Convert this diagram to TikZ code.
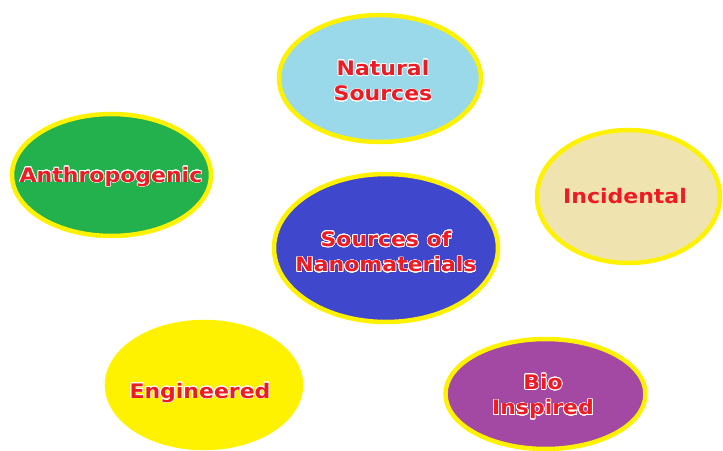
\documentclass[tikz,border=0pt]{standalone}
\usepackage{fontspec}
\usepackage{contour}
\usetikzlibrary{shapes.geometric}
\newfontfamily\labelfont[FakeStretch=1.1]{DejaVu Sans Bold}
\contourlength{0.7pt}
\contournumber{24}
\definecolor{rimyellow}{RGB}{255,242,0}
\definecolor{txtred}{RGB}{237,28,36}
\definecolor{skyfill}{RGB}{153,217,234}
\definecolor{greenfill}{RGB}{34,177,76}
\definecolor{wheatfill}{RGB}{239,228,176}
\definecolor{indigofill}{RGB}{63,72,204}
\definecolor{yellowfill}{RGB}{255,242,0}
\definecolor{purplefill}{RGB}{163,73,164}
\newcommand{\wl}[1]{\contour{white}{#1}}
\begin{document}
\begin{tikzpicture}[x=1pt,y=-1pt,
  blob/.style={ellipse, draw=rimyellow, line width=4.5pt, inner sep=0pt},
  caption/.style={text=txtred, font=\labelfont\fontsize{20}{25.5}\selectfont, align=center, inner sep=0pt}]
  \useasboundingbox (0,0) rectangle (723,450);
  \fill[white] (0,0) rectangle (723,450);

  % circles
  \node[blob, fill=skyfill,    minimum width=202pt, minimum height=127pt] (nat) at (380,78.5) {};
  \node[blob, fill=greenfill,  minimum width=199pt, minimum height=122pt] (ant) at (111.5,175) {};
  \node[blob, fill=wheatfill,  minimum width=183pt, minimum height=133pt] (inc) at (628.5,196.5) {};
  \node[blob, fill=indigofill, minimum width=224pt, minimum height=148pt] (src) at (386,248) {};
  \node[blob, fill=yellowfill, minimum width=194pt, minimum height=126pt] (eng) at (204,385) {};
  \node[blob, fill=purplefill, minimum width=200pt, minimum height=110pt] (bio) at (545.5,394) {};

  % labels
  \node[caption] (natT) at (383,81)  {\wl{Natural}\\\wl{Sources}};
  \node[caption] (antT) at (111,177) {\wl{Anthropogenic}};
  \node[caption] (incT) at (625,196) {Incidental};
  \node[caption] (srcT) at (386,252) {\wl{Sources of}\\\wl{Nanomaterials}};
  \node[caption] (engT) at (200,393) {\wl{Engineered}};
  \node[caption] (bioT) at (543,397) {\wl{Bio}\\\wl{Inspired}};
\end{tikzpicture}
\end{document}
